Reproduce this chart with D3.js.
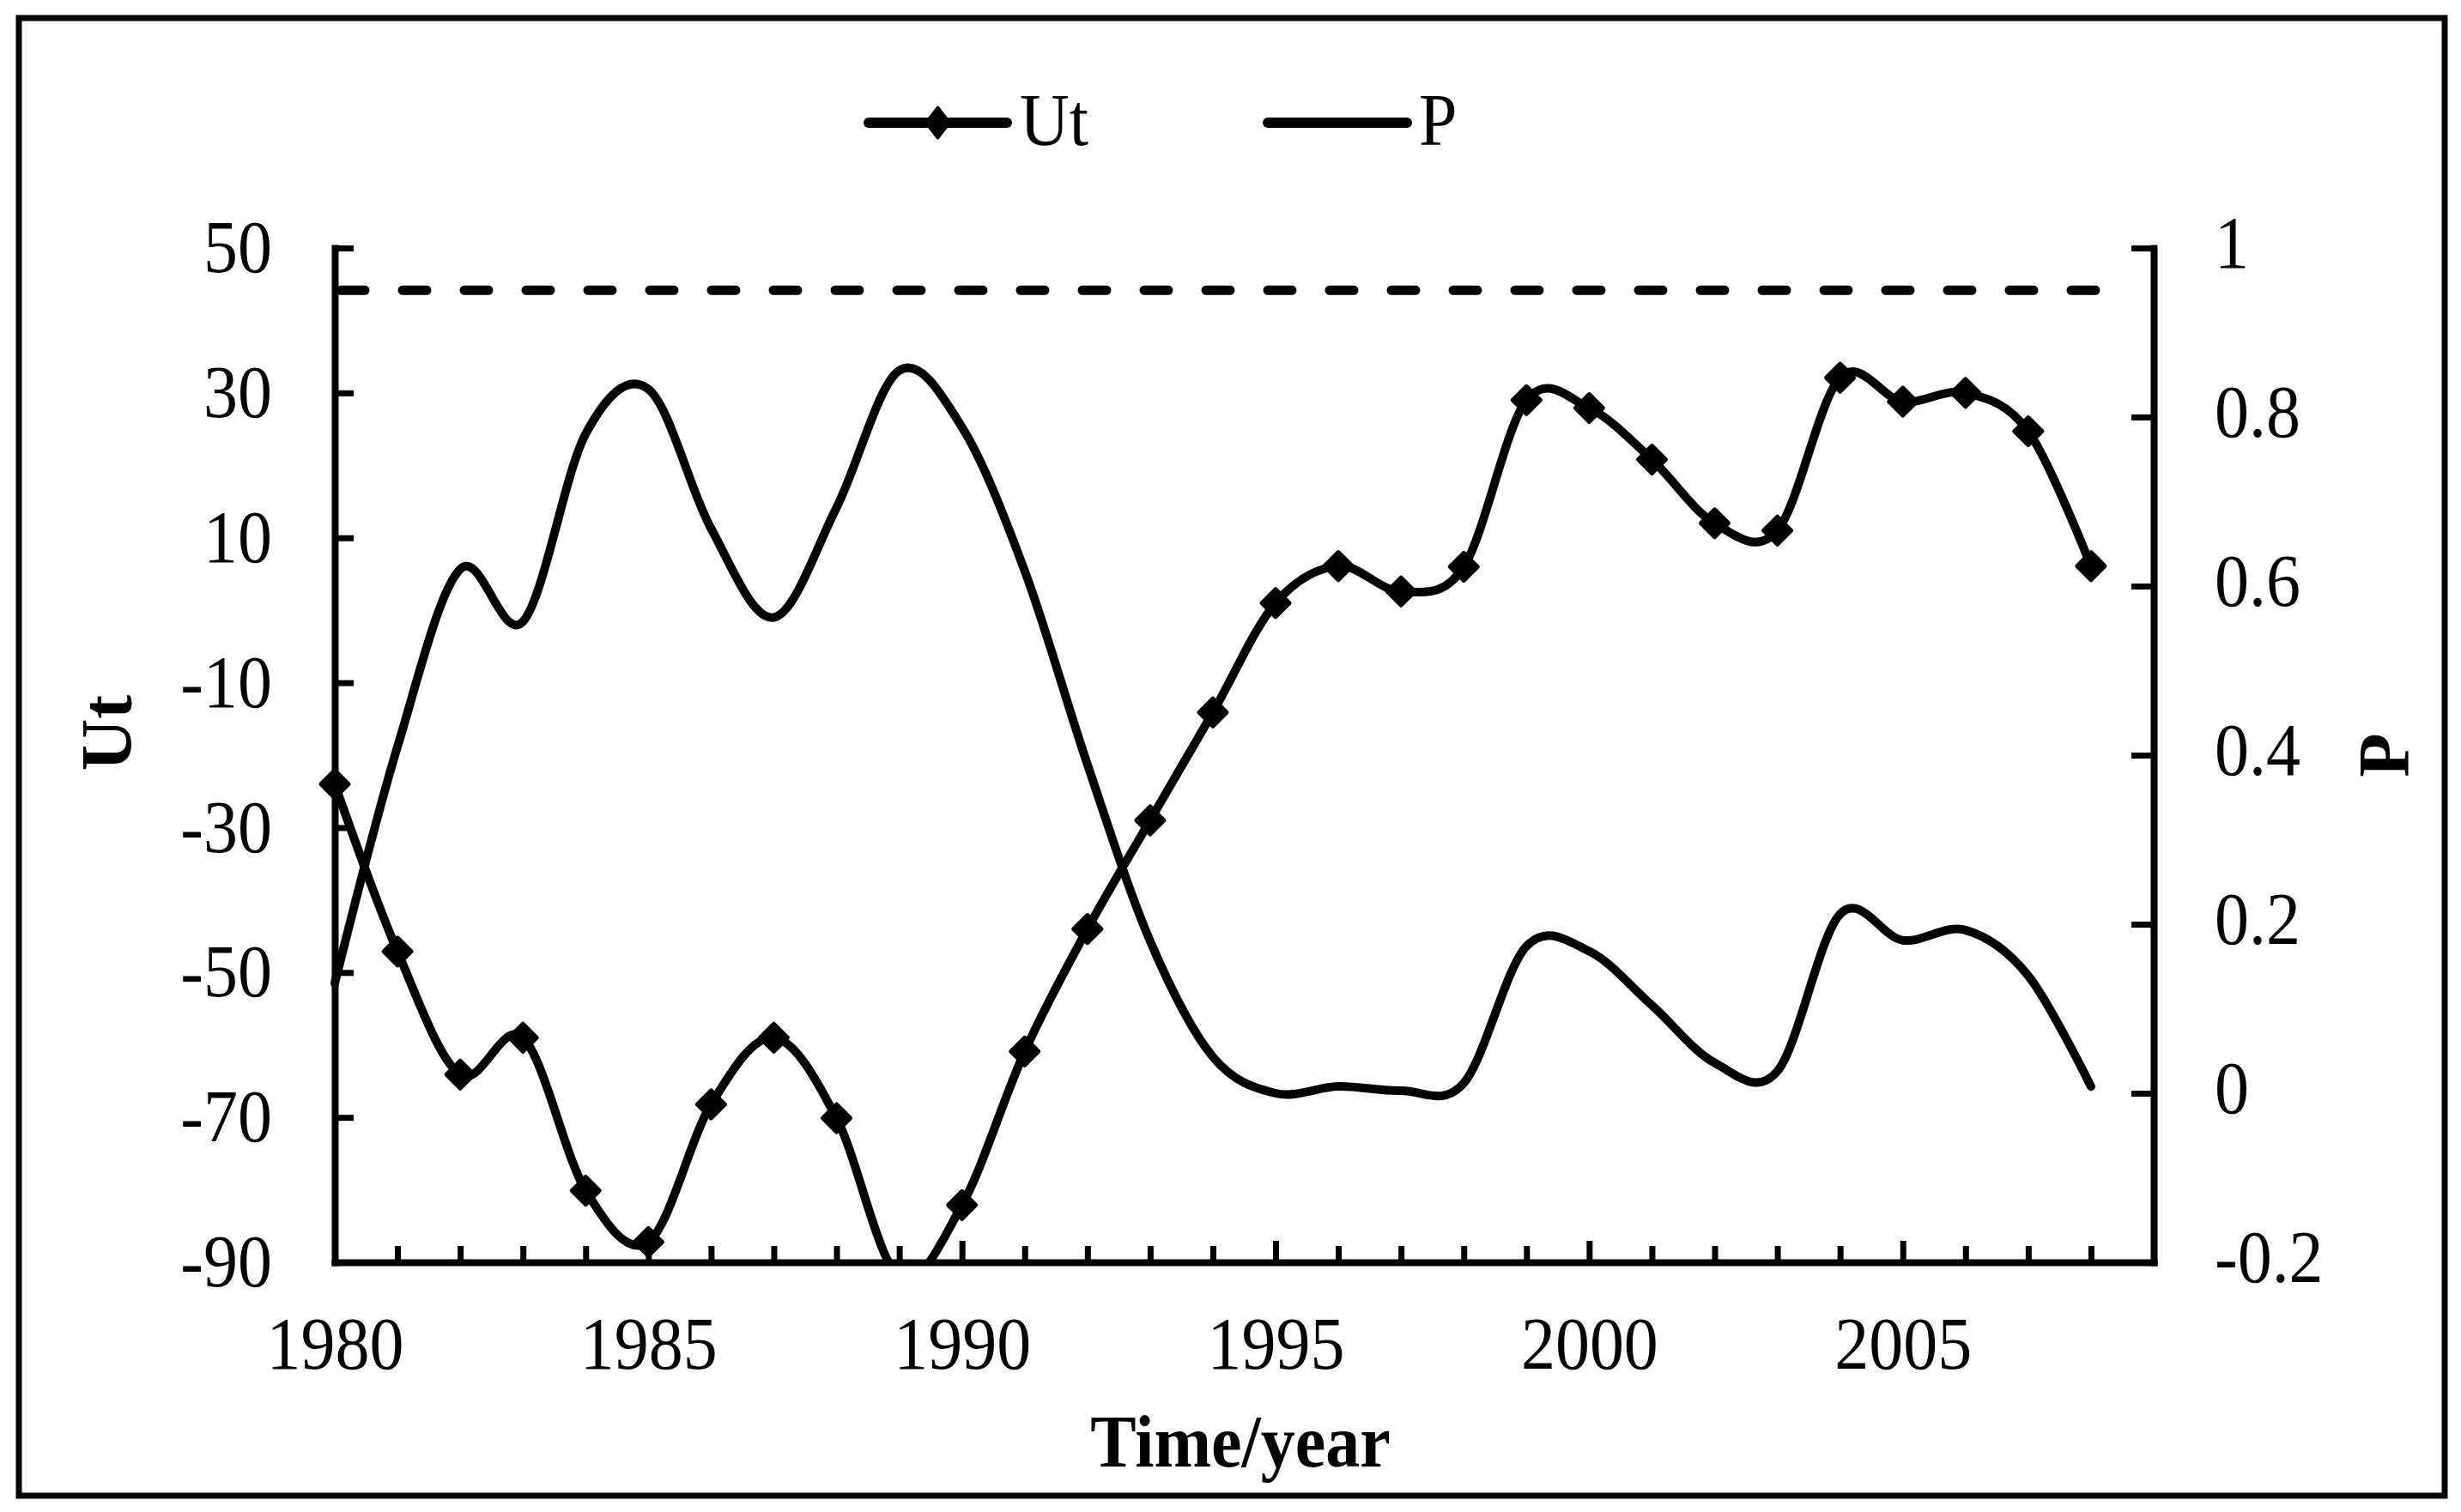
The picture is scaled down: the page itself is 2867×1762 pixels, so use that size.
<!DOCTYPE html>
<html>
<head>
<meta charset="utf-8">
<script src="https://cdn.jsdelivr.net/npm/d3@7"></script>
<style>
  html, body { margin: 0; padding: 0; background: #fff; }
  svg { display: block; }
</style>
</head>
<body>
<svg id="chart" width="2867" height="1762"></svg>
<script>
// ---------------- data ----------------
const years = [1980,1981,1982,1983,1984,1985,1986,1987,1988,1989,1990,1991,1992,1993,1994,
               1995,1996,1997,1998,1999,2000,2001,2002,2003,2004,2005,2006,2007,2008];
const utValues = [-24,-47.1,-64.1,-59,-80.1,-87.2,-68.2,-59,-70.1,-92,-82.1,-60.9,-44,-29,-14.1,
                  1.0,6.1,2.6,6.0,29,27.9,20.8,12.0,11.0,32.1,28.8,30.0,24.7,6.1];
const pValues = [0.13,0.41,0.62,0.558,0.78,0.833,0.668,0.563,0.693,0.855,0.788,0.618,0.389,0.18,0.043,
                 0.0,0.008,0.003,0.012,0.174,0.168,0.104,0.036,0.026,0.212,0.181,0.193,0.139,0.008];
const significanceLevel = 0.95;
const utTicks = [-90,-70,-50,-30,-10,10,30,50];
const pTicks = [-0.2,0,0.2,0.4,0.6,0.8,1];
const yearLabels = [1980,1985,1990,1995,2000,2005];
const seriesNames = ["Ut","P"];
const axisTitles = { left: "Ut", right: "P", bottom: "Time/year" };

// ---------------- layout ----------------
const FONT = "'Times New Roman', 'Liberation Serif', serif";
const plot = { left: 390, right: 2509, top: 289, bottom: 1471 };
const STRETCH = "scale(1,1.08)";

const svg = d3.select("#chart");

// outer frame
svg.append("rect")
  .attr("x", 22).attr("y", 21).attr("width", 2826).attr("height", 1722)
  .attr("fill", "#fff").attr("stroke", "#000").attr("stroke-width", 7);

const x = d3.scaleLinear().domain([1980, 2009]).range([plot.left, plot.right]);
const yL = d3.scaleLinear().domain([-90, 50]).range([plot.bottom, plot.top]);
const yR = d3.scaleLinear().domain([-0.2, 1]).range([plot.bottom, plot.top]);

function styleAxis(g) {
  g.selectAll("path.domain").attr("stroke", "#000").attr("stroke-width", 8).attr("stroke-linecap", "square");
  g.selectAll(".tick line").attr("stroke", "#000").attr("stroke-width", 7);
  g.selectAll(".tick text")
    .attr("fill", "#000")
    .style("font-family", FONT)
    .style("font-size", "80px")
    .attr("transform", STRETCH);
}

// bottom axis
const gx = svg.append("g").attr("transform", `translate(0,${plot.bottom})`)
  .call(d3.axisBottom(x).tickValues(years).tickSize(-19).tickSizeOuter(0).tickPadding(58)
        .tickFormat(d => yearLabels.includes(d) ? String(d) : ""));
styleAxis(gx);
gx.selectAll(".tick line").attr("y2", d => (d % 5 === 0 ? -25 : -19));

// left axis
const gl = svg.append("g").attr("transform", `translate(${plot.left},0)`)
  .call(d3.axisLeft(yL).tickValues(utTicks).tickSize(-22).tickSizeOuter(0).tickPadding(73)
        .tickFormat(d => String(d)));
styleAxis(gl);

// right axis
const gr = svg.append("g").attr("transform", `translate(${plot.right},0)`)
  .call(d3.axisRight(yR).tickValues(pTicks).tickSize(-26).tickSizeOuter(0).tickPadding(71)
        .tickFormat(d => String(d)));
styleAxis(gr);
gr.selectAll(".tick text").attr("dy", "0.26em");

// clip (bottom of plot area clips curves below the axis minimum)
svg.append("defs").append("clipPath").attr("id", "plotClip")
  .append("rect").attr("x", 0).attr("y", plot.top - 80)
  .attr("width", 2867).attr("height", plot.bottom - plot.top + 80);

const marks = svg.append("g").attr("clip-path", "url(#plotClip)");

// significance dashed line
marks.append("path")
  .datum([years[0], years[years.length - 1]])
  .attr("d", d3.line().x(d => x(d)).y(() => yR(significanceLevel)))
  .attr("fill", "none").attr("stroke", "#000").attr("stroke-width", 11)
  .attr("stroke-dasharray", "28,44").attr("stroke-linecap", "round")
  .attr("transform", "translate(7,0)");

const curve = d3.curveCardinal.tension(0);

// P curve
marks.append("path")
  .datum(years.map((yr, i) => [yr, pValues[i]]))
  .attr("d", d3.line().curve(curve).x(d => x(d[0])).y(d => yR(d[1])))
  .attr("fill", "none").attr("stroke", "#000").attr("stroke-width", 10)
  .attr("stroke-linecap", "round").attr("stroke-linejoin", "round");

// Ut curve
marks.append("path")
  .datum(years.map((yr, i) => [yr, utValues[i]]))
  .attr("d", d3.line().curve(curve).x(d => x(d[0])).y(d => yL(d[1])))
  .attr("fill", "none").attr("stroke", "#000").attr("stroke-width", 10)
  .attr("stroke-linecap", "round").attr("stroke-linejoin", "round");

// Ut markers (diamonds)
const diamond = "M0,-16L16,0L0,16L-16,0Z";
marks.selectAll("path.ut-marker")
  .data(years.map((yr, i) => [yr, utValues[i]]))
  .join("path").attr("class", "ut-marker")
  .attr("d", diamond)
  .attr("transform", d => `translate(${x(d[0])},${yL(d[1])})`)
  .attr("fill", "#000").attr("stroke", "#000").attr("stroke-width", 5)
  .attr("stroke-linejoin", "round");

// ---------------- legend ----------------
const legend = svg.append("g");
const legendItems = [
  { name: seriesNames[0], x1: 1012, x2: 1173, marker: true, tx: 1188 },
  { name: seriesNames[1], x1: 1477, x2: 1639, marker: false, tx: 1653 }
];
legendItems.forEach(it => {
  legend.append("line").attr("x1", it.x1).attr("x2", it.x2).attr("y1", 143).attr("y2", 143)
    .attr("stroke", "#000").attr("stroke-width", 12).attr("stroke-linecap", "round");
  if (it.marker) {
    legend.append("path").attr("d", "M0,-18L14,0L0,18L-14,0Z")
      .attr("transform", `translate(${(it.x1 + it.x2) / 2},143)`)
      .attr("fill", "#000").attr("stroke", "#000").attr("stroke-width", 3).attr("stroke-linejoin", "round");
  }
  legend.append("text").attr("transform", `translate(${it.tx},169) ${STRETCH}`)
    .style("font-family", FONT).style("font-size", "80px").attr("fill", "#000")
    .text(it.name);
});

// ---------------- axis titles ----------------
svg.append("text")
  .attr("transform", `translate(1445,1709) ${STRETCH}`)
  .attr("text-anchor", "middle")
  .style("font-family", FONT).style("font-size", "80px").style("font-weight", "bold")
  .text(axisTitles.bottom);

svg.append("text")
  .attr("transform", "translate(153,854) rotate(-90)")
  .attr("text-anchor", "middle")
  .style("font-family", FONT).style("font-size", "84px").style("font-weight", "bold")
  .text(axisTitles.left);

svg.append("text")
  .attr("transform", "translate(2806,880) rotate(-90)")
  .attr("text-anchor", "middle")
  .style("font-family", FONT).style("font-size", "84px").style("font-weight", "bold")
  .text(axisTitles.right);
</script>
</body>
</html>
